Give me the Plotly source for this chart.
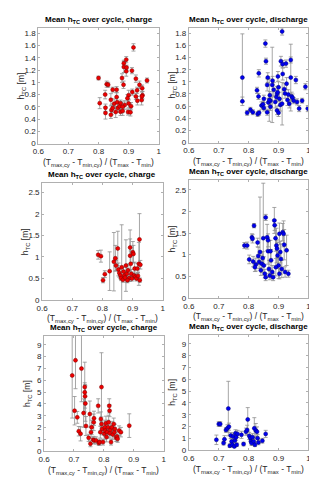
import plotly.graph_objects as go

# ---------------- data ----------------
# Panel 1: charge (top)
c1_x = [0.800, 0.804, 0.822, 0.823, 0.823, 0.827, 0.832, 0.841, 0.843, 0.841, 0.847, 0.860, 0.852, 0.847,
        0.857, 0.860, 0.862, 0.864, 0.870, 0.873, 0.878, 0.884, 0.884, 0.892, 0.892, 0.893, 0.883, 0.911,
        0.916, 0.924, 0.936, 0.945, 0.946, 0.944, 0.961, 0.900, 0.912, 0.900, 0.908, 0.898, 0.906, 0.924,
        0.929, 0.943, 0.896, 0.887, 0.880, 0.873, 0.880, 0.928]
c1_y = [1.07, 0.66, 0.80, 0.585, 0.50, 0.97, 0.96, 0.715, 0.55, 0.47, 0.88, 0.88, 0.65, 0.58,
        0.515, 0.76, 0.675, 0.58, 0.61, 0.66, 1.07, 1.31, 1.25, 1.37, 1.18, 1.24, 0.96, 1.19,
        1.57, 1.06, 0.96, 0.905, 0.79, 0.77, 1.03, 0.79, 0.84, 0.655, 0.61, 0.515, 0.51, 0.77,
        0.70, 0.71, 0.74, 0.63, 0.60, 0.52, 0.53, 0.87]
c1_e = [0.03, 0.09, 0.07, 0.06, 0.10, 0.05, 0.04, 0.10, 0.08, 0.06, 0.04, 0.05, 0.08, 0.07,
        0.09, 0.07, 0.08, 0.07, 0.06, 0.05, 0.07, 0.05, 0.09, 0.05, 0.08, 0.04, 0.06, 0.05,
        0.06, 0.06, 0.06, 0.05, 0.06, 0.07, 0.04, 0.08, 0.05, 0.07, 0.06, 0.05, 0.06, 0.05,
        0.07, 0.08, 0.06, 0.07, 0.08, 0.06, 0.07, 0.05]

# Panel 2: discharge (top)
d1_x = [0.779, 0.779, 0.795, 0.806, 0.814, 0.830, 0.828, 0.834, 0.833, 0.835, 0.843, 0.856, 0.858, 0.848,
        0.851, 0.862, 0.864, 0.866, 0.871, 0.873, 0.879, 0.880, 0.884, 0.889, 0.893, 0.895, 0.897, 0.898,
        0.900, 0.903, 0.906, 0.908, 0.912, 0.914, 0.914, 0.912, 0.919, 0.922, 0.925, 0.927, 0.930, 0.933,
        0.936, 0.941, 0.941, 0.944, 0.947, 0.951, 0.958, 0.962, 0.969, 0.979, 0.990, 0.998, 0.851, 0.862,
        0.873, 0.895, 0.900, 0.869]
d1_y = [1.07, 0.68, 0.49, 0.54, 0.50, 0.47, 0.86, 1.14, 0.76, 0.49, 0.61, 1.63, 1.34, 0.63,
        0.72, 0.95, 1.07, 0.66, 0.78, 0.69, 0.95, 1.02, 0.87, 0.67, 0.75, 0.80, 0.83, 1.09,
        0.91, 0.72, 0.62, 1.34, 1.83, 1.13, 1.29, 0.64, 0.88, 0.81, 1.30, 0.97, 0.70, 0.79,
        0.64, 1.36, 1.07, 0.76, 0.74, 0.69, 1.03, 0.67, 0.56, 0.69, 0.92, 0.56, 0.57, 0.50,
        0.59, 0.53, 0.49, 0.70]
d1_ep = [0.72, 0.07, 0.04, 0.04, 0.04, 0.04, 0.05, 0.06, 0.05, 0.04, 0.06, 0.06, 0.05, 0.05,
         0.06, 0.10, 0.08, 0.07, 0.06, 0.06, 0.62, 0.07, 0.12, 0.10, 0.08, 0.12, 0.10, 0.08,
         0.09, 0.11, 0.10, 0.08, 0.06, 0.10, 0.06, 0.35, 0.09, 0.08, 0.06, 0.10, 0.09, 0.08,
         0.07, 0.05, 0.55, 0.07, 0.06, 0.05, 0.06, 0.05, 0.05, 0.04, 0.05, 0.05, 0.05, 0.05,
         0.06, 0.07, 0.06, 0.35]
d1_em = [0.40, 0.07, 0.04, 0.04, 0.04, 0.04, 0.05, 0.06, 0.05, 0.04, 0.06, 0.06, 0.05, 0.05,
         0.06, 0.10, 0.08, 0.07, 0.06, 0.06, 0.62, 0.07, 0.12, 0.10, 0.08, 0.12, 0.10, 0.08,
         0.09, 0.11, 0.10, 0.08, 0.06, 0.10, 0.06, 0.35, 0.09, 0.08, 0.06, 0.10, 0.09, 0.08,
         0.07, 0.05, 0.55, 0.07, 0.06, 0.05, 0.06, 0.05, 0.05, 0.04, 0.05, 0.05, 0.05, 0.05,
         0.06, 0.07, 0.06, 0.35]

# Panel 3: charge (middle)
c2_x = [0.786, 0.795, 0.802, 0.808, 0.824, 0.838, 0.843, 0.845, 0.851, 0.853, 0.856, 0.860, 0.862, 0.864,
        0.868, 0.873, 0.878, 0.881, 0.885, 0.889, 0.892, 0.892, 0.894, 0.896, 0.898, 0.901, 0.903, 0.905,
        0.907, 0.910, 0.913, 0.918, 0.921, 0.923, 0.924, 0.926, 0.916, 0.883, 0.875, 0.870]
c2_y = [1.05, 1.02, 0.46, 0.60, 0.67, 0.89, 0.97, 0.80, 1.20, 0.71, 0.63, 0.57, 0.51, 0.76,
        0.47, 0.57, 0.80, 0.61, 0.69, 0.51, 1.03, 1.22, 0.84, 0.61, 0.50, 1.11, 1.07, 0.57,
        0.73, 0.54, 0.50, 0.56, 0.84, 1.41, 0.46, 0.82, 0.73, 0.46, 0.52, 0.66]
c2_e = [0.10, 0.14, 0.06, 0.08, 0.45, 0.68, 0.30, 0.12, 0.40, 0.15, 0.10, 0.08, 0.06, 0.99,
        0.06, 0.10, 0.60, 0.20, 0.15, 0.08, 0.60, 0.20, 0.30, 0.10, 0.06, 0.25, 0.20, 0.08,
        0.15, 0.07, 0.06, 0.08, 0.50, 0.60, 0.05, 0.10, 0.12, 0.06, 0.07, 0.10]

# Panel 4: discharge (middle)
d2_x = [0.786, 0.795, 0.802, 0.811, 0.813, 0.818, 0.815, 0.824, 0.821, 0.830, 0.832, 0.835, 0.838, 0.841,
        0.844, 0.847, 0.849, 0.857, 0.851, 0.854, 0.857, 0.862, 0.865, 0.865, 0.868, 0.871, 0.873, 0.875,
        0.879, 0.882, 0.886, 0.887, 0.890, 0.893, 0.895, 0.897, 0.900, 0.903, 0.906, 0.908, 0.911, 0.914,
        0.917, 0.919, 0.922, 0.927, 0.933, 0.891, 0.903]
d2_y = [1.21, 1.21, 0.89, 1.40, 1.37, 1.67, 0.84, 0.77, 0.71, 1.28, 0.97, 0.83, 1.06, 0.64,
        0.79, 0.92, 1.38, 1.86, 0.75, 0.56, 0.48, 1.40, 1.33, 1.08, 0.67, 0.52, 1.08, 0.87,
        0.60, 0.48, 1.79, 1.68, 1.38, 1.21, 1.14, 0.98, 0.75, 0.56, 1.06, 0.90, 0.67, 1.52,
        1.48, 1.23, 0.60, 1.10, 0.56, 0.71, 1.48]
d2_ep = [0.07, 0.08, 0.10, 0.08, 0.10, 0.05, 0.12, 0.15, 0.10, 0.10, 0.20, 0.15, 1.27, 0.07,
         0.20, 0.15, 1.27, 0.07, 0.20, 0.10, 0.08, 0.30, 0.15, 0.30, 0.20, 0.10, 0.25, 0.25,
         0.15, 0.08, 0.30, 0.12, 0.30, 0.40, 0.20, 0.30, 0.30, 0.12, 0.25, 0.35, 0.20, 0.20,
         0.30, 0.35, 0.12, 0.35, 0.08, 0.20, 0.25]
d2_em = [0.07, 0.08, 0.10, 0.08, 0.10, 0.05, 0.12, 0.15, 0.10, 0.10, 0.20, 0.15, 0.25, 0.12,
         0.20, 0.15, 0.60, 0.07, 0.20, 0.10, 0.08, 0.30, 0.15, 0.30, 0.20, 0.10, 0.25, 0.25,
         0.15, 0.08, 0.30, 0.12, 0.30, 0.40, 0.20, 0.30, 0.30, 0.12, 0.25, 0.35, 0.20, 0.20,
         0.30, 0.35, 0.12, 0.35, 0.08, 0.20, 0.25]

# Panel 5: charge (bottom)
c3_x = [0.694, 0.702, 0.705, 0.711, 0.716, 0.722, 0.725, 0.732, 0.736, 0.737, 0.738, 0.736, 0.740, 0.749,
        0.753, 0.755, 0.757, 0.759, 0.764, 0.766, 0.767, 0.768, 0.774, 0.781, 0.783, 0.786, 0.788, 0.792,
        0.790, 0.792, 0.794, 0.797, 0.801, 0.803, 0.805, 0.807, 0.809, 0.811, 0.814, 0.816, 0.818, 0.819,
        0.820, 0.822, 0.824, 0.827, 0.830, 0.833, 0.835, 0.837, 0.841, 0.844, 0.846, 0.851, 0.857, 0.885]
c3_y = [6.41, 3.43, 7.69, 2.87, 1.70, 1.48, 6.99, 3.23, 5.43, 4.65, 4.04, 4.99, 2.14, 1.14,
        3.15, 0.64, 1.62, 2.03, 0.97, 2.45, 2.79, 0.92, 0.92, 3.84, 0.70, 0.78, 1.62, 5.43,
        2.73, 2.31, 1.89, 0.78, 1.48, 2.03, 1.75, 2.37, 1.20, 1.62, 2.03, 2.45, 3.84, 3.43,
        1.53, 1.81, 0.78, 2.03, 1.42, 2.31, 1.62, 1.89, 1.14, 1.25, 1.06, 1.75, 1.62, 2.17]
c3_e = [3.60, 1.20, 2.40, 0.50, 0.40, 0.60, 2.80, 1.20, 2.10, 1.00, 1.50, 0.80, 0.80, 0.30,
        1.10, 0.25, 0.50, 0.60, 0.30, 0.70, 0.60, 0.30, 0.30, 0.60, 0.20, 0.25, 0.50, 2.90,
        0.60, 0.60, 0.50, 0.25, 0.50, 0.60, 0.50, 0.60, 0.40, 0.50, 0.60, 0.60, 0.60, 0.50,
        0.40, 0.50, 0.25, 0.50, 0.40, 0.50, 0.40, 0.40, 0.30, 0.40, 0.30, 0.40, 0.40, 1.00]

# Panel 6: discharge (bottom)
d3_x = [0.692, 0.700, 0.705, 0.716, 0.719, 0.724, 0.729, 0.732, 0.734, 0.737, 0.740, 0.743, 0.746, 0.748,
        0.752, 0.754, 0.756, 0.758, 0.760, 0.763, 0.776, 0.783, 0.791, 0.795, 0.797, 0.802, 0.806, 0.808,
        0.810, 0.813, 0.817, 0.819, 0.821, 0.824, 0.828, 0.830, 0.833, 0.846, 0.857]
d3_y = [0.89, 2.22, 2.22, 0.61, 0.94, 1.72, 1.86, 3.53, 2.00, 0.39, 1.25, 0.75, 0.47, 1.17,
        0.33, 0.83, 1.44, 1.11, 0.47, 1.39, 1.31, 0.53, 1.58, 1.72, 2.61, 1.22, 1.03, 0.75,
        0.61, 1.11, 0.75, 1.86, 0.47, 1.67, 1.58, 1.03, 0.67, 0.81, 1.39]
d3_e = [0.40, 0.20, 0.20, 0.15, 0.30, 0.20, 0.30, 2.30, 0.30, 0.15, 0.25, 0.20, 0.15, 0.30,
        0.10, 0.20, 0.30, 0.25, 0.15, 0.30, 0.30, 0.15, 0.30, 0.40, 1.00, 0.30, 0.25, 0.20,
        0.20, 0.30, 0.20, 0.90, 0.15, 0.60, 0.40, 0.30, 0.20, 0.20, 0.30]

x_ticks = [0.6, 0.7, 0.8, 0.9, 1.0]
x_tick_labels = ["0.6", "0.7", "0.8", "0.9", "1"]
title_charge = "<b>Mean h<sub>TC</sub> over cycle, charge</b>"
title_discharge = "<b>Mean h<sub>TC</sub> over cycle, discharge</b>"
x_label = "(T<sub>max,cy</sub> - T<sub>min,cy</sub>) / (T<sub>max</sub> - T<sub>min</sub>)"
y_label = "h<sub>TC</sub> [m]"

# ---------------- layout ----------------
W, H = 317, 480
RED, RED_EDGE = "#ee0000", "#7a0000"
BLUE, BLUE_EDGE = "#0000ee", "#00007a"
ERR = "#8f8f8f"
FONT = "Liberation Sans, Arial, sans-serif"

panels = [
    dict(x=c1_x, y=c1_y, ep=c1_e, em=c1_e, col=RED, edge=RED_EDGE, title=title_charge,
         px=(25, 149), py=(20, 137), ymax=1.89, dtick=0.2),
    dict(x=d1_x, y=d1_y, ep=d1_ep, em=d1_em, col=BLUE, edge=BLUE_EDGE, title=title_discharge,
         px=(180, 303), py=(20, 136), ymax=1.89, dtick=0.2),
    dict(x=c2_x, y=c2_y, ep=c2_e, em=c2_e, col=RED, edge=RED_EDGE, title=title_charge,
         px=(29, 153), py=(177, 295), ymax=2.72, dtick=0.5),
    dict(x=d2_x, y=d2_y, ep=d2_ep, em=d2_em, col=BLUE, edge=BLUE_EDGE, title=title_discharge,
         px=(180, 303), py=(174, 293), ymax=2.72, dtick=0.5),
    dict(x=c3_x, y=c3_y, ep=c3_e, em=c3_e, col=RED, edge=RED_EDGE, title=title_charge,
         px=(31, 154), py=(331, 448), ymax=9.78, dtick=1),
    dict(x=d3_x, y=d3_y, ep=d3_e, em=d3_e, col=BLUE, edge=BLUE_EDGE, title=title_discharge,
         px=(180, 303), py=(330, 447), ymax=9.78, dtick=1),
]

fig = go.Figure()
layout = dict(width=W, height=H, margin=dict(l=0, r=0, t=0, b=0),
              paper_bgcolor="white", plot_bgcolor="white", showlegend=False,
              font=dict(family=FONT, size=8, color="#262626"))
annotations = []

for i, p in enumerate(panels):
    n = i + 1
    xa = "x" if n == 1 else f"x{n}"
    ya = "y" if n == 1 else f"y{n}"
    fig.add_trace(go.Scatter(
        x=p["x"], y=p["y"], mode="markers", xaxis=xa, yaxis=ya,
        marker=dict(size=4, color=p["col"], line=dict(color=p["edge"], width=0.5)),
        error_y=dict(type="data", symmetric=False, array=p["ep"], arrayminus=p["em"],
                     color=ERR, thickness=0.8, width=2),
        cliponaxis=True,
    ))
    x0, x1 = p["px"]
    y0, y1 = p["py"]
    ax_common = dict(showgrid=False, zeroline=False, showline=True, linecolor="#b0b0b0",
                     linewidth=1, mirror="ticks", ticks="inside", ticklen=2,
                     tickcolor="#b0b0b0", tickfont=dict(family=FONT, size=8, color="#262626"))
    layout["xaxis" if n == 1 else f"xaxis{n}"] = dict(
        ax_common, domain=[x0 / W, x1 / W], range=[0.6, 1.0], tickvals=x_ticks,
        ticktext=x_tick_labels, anchor=ya, fixedrange=True)
    layout["yaxis" if n == 1 else f"yaxis{n}"] = dict(
        ax_common, domain=[1 - y1 / H, 1 - y0 / H], range=[0, p["ymax"]], dtick=p["dtick"],
        tick0=0, anchor=xa, fixedrange=True)
    cx = (x0 + x1) / 2 / W
    # title
    annotations.append(dict(text=p["title"], x=cx, y=1 - (y0 - 8) / H, xref="paper", yref="paper",
                            showarrow=False, xanchor="center", yanchor="middle",
                            font=dict(family=FONT, size=8, color="#000000")))
    # x label
    annotations.append(dict(text=x_label, x=cx, y=1 - (y1 + 19) / H, xref="paper", yref="paper",
                            showarrow=False, xanchor="center", yanchor="middle",
                            font=dict(family=FONT, size=8.5, color="#262626")))
    # y label
    annotations.append(dict(text=y_label, x=(x0 - 17) / W, y=1 - (y0 + y1) / 2 / H,
                            xref="paper", yref="paper", showarrow=False, textangle=-90,
                            xanchor="center", yanchor="middle",
                            font=dict(family=FONT, size=8.5, color="#262626")))

layout["annotations"] = annotations
fig.update_layout(**layout)
fig.write_html("out.html")
